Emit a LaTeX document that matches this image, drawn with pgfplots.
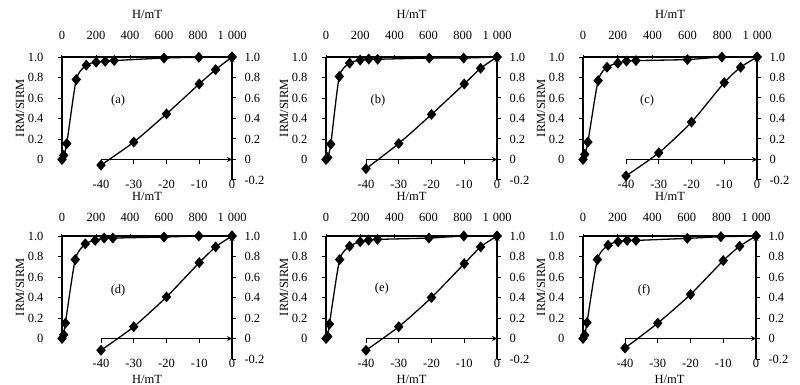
\documentclass[border=0pt]{standalone}
\usepackage{fontspec}
\setmainfont{Liberation Serif}
\usepackage{pgfplots}
\pgfplotsset{compat=1.18}
\newcommand{\pl}{\fontsize{12.5}{13}\selectfont}
\newcommand{\tl}{\fontsize{12.5}{13}\selectfont}
\pgfplotsset{
  common/.style={
    scale only axis, clip=false, enlargelimits=false,
    axis line style={line width=1.2pt,-},
    major tick length=4pt,
    every tick/.append style={line width=1pt, black},
    tick label style={font=\tl},
  },
  irm/.style={
    common,
    xmin=0, xmax=1000, ymin=0, ymax=1, height=102.5pt,
    axis x line*=top, axis y line*=left,
    xtick={0,200,400,600,800,1000},
    xticklabels={0,200,400,600,800,1\kern4pt000},
    ytick={0,0.2,0.4,0.6,0.8,1},
    yticklabels={0,0.2,0.4,0.6,0.8,1.0},
    xtick align=center, ytick align=outside,
    yticklabel style={anchor=east, xshift=-11pt},
    ylabel={IRM/SIRM},
    ylabel style={font=\pl, at={([xshift=-42pt]axis description cs:0,0.5)}, anchor=center, rotate=0},
  },
  bf/.style={
    common,
    xmin=-40, xmax=0, ymin=-0.2, ymax=1, width=131pt, height=123pt,
    axis x line=middle, axis y line=right,
    xtick={-40,-30,-20,-10,0}, xticklabels={-40,-30,-20,-10,0},
    ytick={-0.2,0,0.2,0.4,0.6,0.8,1},
    yticklabels={-0.2,0,0.2,0.4,0.6,0.8,1.0},
    tick align=outside,
    hide obscured x ticks=false, hide obscured y ticks=false,
    yticklabel style={anchor=west, xshift=5pt},
    xticklabel style={anchor=center, yshift=-20.5pt},
  },
  toplab/.style={xlabel={H/mT}, xlabel style={font=\pl, at={([yshift=43pt]axis description cs:0.5,1)}, anchor=center}},
  botlab/.style 2 args={xlabel={H/mT}, xlabel style={font=\pl, at={([yshift=#2]axis description cs:#1,0)}, anchor=center}},
  dat/.style={black, line width=1.3pt, smooth, tension=0.4,
    mark=diamond*, mark size=4.5pt, mark options={xscale=1.15, solid, fill=black}},
}
\begin{document}
\begin{tikzpicture}
\useasboundingbox (0,0) rectangle (800pt,-385pt);
% ---------------- (a)
\begin{axis}[irm, at={(62pt,-159.5pt)}, anchor=south west, width=170pt, toplab,
  xticklabel style={anchor=center, yshift=20pt}]
\addplot[dat] coordinates {(0,0) (10,0.04) (28,0.155) (84,0.78) (143,0.92) (201,0.95) (254,0.958) (307,0.965) (600,0.99) (805,0.997) (1000,1.0)};
\node[font=\pl] at (axis cs:330,0.58) {(a)};
\end{axis}
\begin{axis}[bf, at={(232pt,-57pt)}, anchor=north east, botlab={0.351}{-16pt}]
\addplot[dat] coordinates {(-40,-0.055) (-30,0.17) (-20,0.445) (-10,0.737) (-5,0.877) (0,1.0)};
\end{axis}
% ---------------- (b)
\begin{axis}[irm, at={(326pt,-159.5pt)}, anchor=south west, width=171pt, toplab,
  xticklabel style={anchor=center, yshift=20pt}]
\addplot[dat] coordinates {(0,0) (10,0.02) (28,0.15) (78,0.81) (138,0.94) (200,0.97) (250,0.98) (302,0.978) (604,0.99) (805,0.99) (1000,1.0)};
\node[font=\pl] at (axis cs:304,0.58) {(b)};
\end{axis}
\begin{axis}[bf, at={(497pt,-57pt)}, anchor=north east, botlab={0.347}{-16pt}]
\addplot[dat] coordinates {(-40,-0.09) (-30,0.156) (-20,0.44) (-10,0.737) (-5,0.89) (0,1.0)};
\end{axis}
% ---------------- (c)
\begin{axis}[irm, at={(583pt,-159.5pt)}, anchor=south west, width=174pt, toplab,
  xticklabel style={anchor=center, yshift=20pt}]
\addplot[dat] coordinates {(0,0) (10,0.05) (28,0.17) (87,0.77) (138,0.9) (200,0.94) (250,0.96) (304,0.965) (600,0.975) (798,1.0) (1000,1.0)};
\node[font=\pl] at (axis cs:368,0.58) {(c)};
\end{axis}
\begin{axis}[bf, at={(757pt,-57pt)}, anchor=north east, botlab={0.336}{-16pt}]
\addplot[dat] coordinates {(-40,-0.16) (-30,0.065) (-20,0.365) (-10,0.75) (-5,0.9) (0,1.0)};
\end{axis}
% ---------------- (d)
\begin{axis}[irm, at={(62pt,-338.5pt)}, anchor=south west, width=170pt,
  xticklabel style={anchor=center, yshift=17pt}]
\addplot[dat] coordinates {(0,0) (10,0.036) (20,0.15) (78,0.77) (137,0.924) (195,0.957) (248,0.98) (299,0.98) (600,0.99) (805,1.0) (1000,1.0)};
\node[font=\pl] at (axis cs:330,0.47) {(d)};
\end{axis}
\begin{axis}[bf, at={(232pt,-236pt)}, anchor=north east, botlab={0.351}{-20.5pt}]
\addplot[dat] coordinates {(-40,-0.115) (-30,0.115) (-20,0.406) (-10,0.74) (-5,0.894) (0,1.0)};
\end{axis}
% ---------------- (e)
\begin{axis}[irm, at={(326pt,-338.5pt)}, anchor=south west, width=171pt,
  xticklabel style={anchor=center, yshift=17pt}]
\addplot[dat] coordinates {(0,0) (10,0.02) (20,0.14) (80,0.77) (138,0.9) (200,0.944) (249,0.96) (301,0.967) (602,0.98) (806,1.0) (1000,1.0)};
\node[font=\pl] at (axis cs:327,0.49) {(e)};
\end{axis}
\begin{axis}[bf, at={(497pt,-236pt)}, anchor=north east, botlab={0.347}{-20.5pt}]
\addplot[dat] coordinates {(-40,-0.115) (-30,0.115) (-20,0.4) (-10,0.73) (-5,0.894) (0,1.0)};
\end{axis}
% ---------------- (f)
\begin{axis}[irm, at={(583pt,-338.5pt)}, anchor=south west, width=173pt,
  xticklabel style={anchor=center, yshift=17pt}]
\addplot[dat] coordinates {(0,0) (10,0.033) (23,0.155) (83,0.77) (145,0.91) (203,0.944) (255,0.957) (306,0.957) (603,0.977) (797,0.993) (1000,1.0)};
\node[font=\pl] at (axis cs:353,0.47) {(f)};
\end{axis}
\begin{axis}[bf, at={(756pt,-236pt)}, anchor=north east, botlab={0.34}{-20.5pt}]
\addplot[dat] coordinates {(-40,-0.093) (-30,0.15) (-20,0.43) (-10,0.76) (-5,0.9) (0,1.0)};
\end{axis}
\end{tikzpicture}
\end{document}
